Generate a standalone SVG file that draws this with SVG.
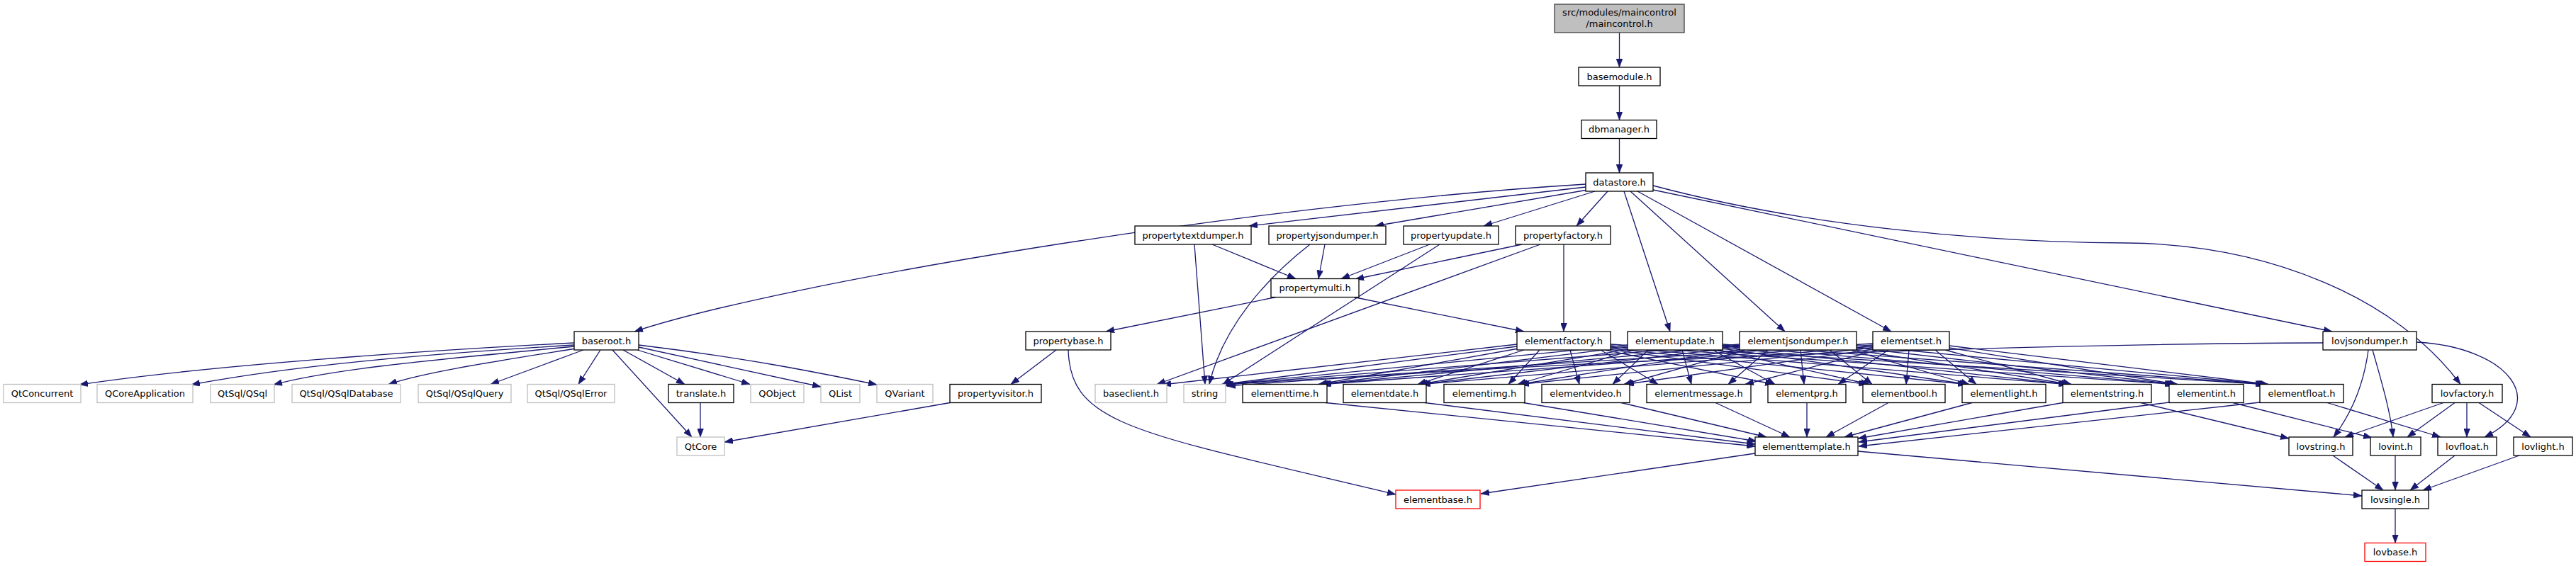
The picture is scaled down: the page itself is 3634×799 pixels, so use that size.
<svg xmlns="http://www.w3.org/2000/svg" width="3634" height="799" viewBox="0 0 3634 799">
<style>
.n rect{fill:#fff;stroke:#000;stroke-width:1.3}
.u rect{stroke:#bfbfbf}
.r rect{stroke:#ff0000}
.top rect{fill:#bfbfbf;stroke:#404040}
text{font-family:"DejaVu Sans","Liberation Sans",sans-serif;font-size:13px;text-anchor:middle;fill:#000}
#edges path{fill:none;stroke:#191970;stroke-width:1.3;marker-end:url(#a)}
</style>
<defs>
<marker id="a" viewBox="0 0 12 9" refX="12" refY="4.5" markerWidth="12" markerHeight="9" orient="auto" markerUnits="userSpaceOnUse"><path d="M0,0 L12,4.5 L0,9 z" fill="#191970" stroke="#191970" stroke-width="0.5"/></marker>
</defs>
<rect width="3634" height="799" fill="#fff"/>
<g id="edges">
<path d="M2284.5,46 L2284.5,95"/>
<path d="M2284.5,121 L2284.5,169.5"/>
<path d="M2284.5,195.5 L2284.5,244"/>
<path d="M2237,260 C1750,290 1100,400 895,468"/>
<path d="M2237,264 L1762,319"/>
<path d="M2240,268 L1940,319"/>
<path d="M2250,270 L2093,319"/>
<path d="M2268,270 L2224,319"/>
<path d="M2291,270 L2356,468"/>
<path d="M2300,270 L2518,468"/>
<path d="M2310,270 L2668,468"/>
<path d="M2332,268 L3290,468"/>
<path d="M2332,262 C2550,320 2800,342 3000,343 C3200,345 3380,420 3471,542.5"/>
<path d="M1710,345 L1828,393.5"/>
<path d="M1685,345 L1700,542.5"/>
<path d="M1869,345 L1860,393.5"/>
<path d="M1848,345 C1790,390 1725,460 1706,542.5"/>
<path d="M2017,345 L1892,393.5"/>
<path d="M2031,345 L1725,542.5"/>
<path d="M2147,345 L1912,394"/>
<path d="M2173,345 L1632,542.5"/>
<path d="M2206,345 L2206,468"/>
<path d="M1800,419.5 L1560,468"/>
<path d="M1910,419.5 L2150,468"/>
<path d="M1490,494 L1426,542.5"/>
<path d="M1507,494 C1510,600 1600,610 1969,698"/>
<path d="M1340,568.5 L1022,624"/>
<path d="M810,484 C600,495 300,515 112,543"/>
<path d="M810,487 C600,500 420,515 270,543"/>
<path d="M810,489 C650,505 480,518 386,543"/>
<path d="M812,492 C700,510 600,525 548,542.5"/>
<path d="M823,494 L692,542.5"/>
<path d="M847,494 L816,542.5"/>
<path d="M864,494 L976,617"/>
<path d="M879,494 L966,542.5"/>
<path d="M899,494 L1058,542.5"/>
<path d="M901,490 L1158,546"/>
<path d="M901,487 C1050,505 1150,525 1237,543"/>
<path d="M988,568.5 L988,617"/>
<path d="M2140,486 L1640,543"/>
<path d="M2140,489 L1722,543"/>
<path d="M2142,492 L1860,542.5"/>
<path d="M2150,494 L2000,542.5"/>
<path d="M2172,494 L2128,542.5"/>
<path d="M2215,494 L2228,542.5"/>
<path d="M2258,494 L2339,542.5"/>
<path d="M2264,494 L2502,542.5"/>
<path d="M2268,493 L2634,542.5"/>
<path d="M2272,492 L2774,542.5"/>
<path d="M2272,490 L2916,542.5"/>
<path d="M2272,488 L3066,542.5"/>
<path d="M2272,486 L3194,542.5"/>
<path d="M2296,487 L1724,543"/>
<path d="M2296,490 L1862,542.5"/>
<path d="M2298,493 L2002,542.5"/>
<path d="M2304,494 L2141,542.5"/>
<path d="M2325,494 L2275,542.5"/>
<path d="M2373,494 L2386,542.5"/>
<path d="M2416,494 L2504,542.5"/>
<path d="M2424,494 L2637,542.5"/>
<path d="M2430,492 L2776,542.5"/>
<path d="M2430,490 L2918,542.5"/>
<path d="M2430,488 L3068,542.5"/>
<path d="M2430,486 L3196,542.5"/>
<path d="M2454,486 L1726,543"/>
<path d="M2454,488 L1864,542.5"/>
<path d="M2454,490 L2004,542.5"/>
<path d="M2456,493 L2143,542.5"/>
<path d="M2462,494 L2291,542.5"/>
<path d="M2494,494 L2438,542.5"/>
<path d="M2540,494 L2545,542.5"/>
<path d="M2581,494 L2641,542.5"/>
<path d="M2610,494 L2778,542.5"/>
<path d="M2617,494 L2920,542.5"/>
<path d="M2619,491 L3070,542.5"/>
<path d="M2619,488 L3198,542.5"/>
<path d="M2642,485 L1728,543"/>
<path d="M2642,487 L1866,542.5"/>
<path d="M2642,489 L2006,542.5"/>
<path d="M2642,491 L2145,542.5"/>
<path d="M2644,493 L2293,542.5"/>
<path d="M2650,494 L2462,542.5"/>
<path d="M2664,494 L2593,542.5"/>
<path d="M2693,494 L2689,542.5"/>
<path d="M2730,494 L2788,542.5"/>
<path d="M2744,494 L2922,542.5"/>
<path d="M2750,491 L3072,542.5"/>
<path d="M2750,488 L3200,542.5"/>
<path d="M3277,484 C2800,486 2200,510 1731,545"/>
<path d="M3341,494 C3335,540 3320,580 3292,617"/>
<path d="M3347,494 C3360,540 3372,580 3376,617"/>
<path d="M3409,483 C3540,490 3600,570 3505,617"/>
<path d="M3447,568.5 L3308,617"/>
<path d="M3463,568.5 L3396,617"/>
<path d="M3480,568.5 L3480,617"/>
<path d="M3497,568.5 L3570,617"/>
<path d="M3020,568.5 L3229,619"/>
<path d="M3150,568.5 L3346,618"/>
<path d="M3283,568.5 L3443,617"/>
<path d="M1870,568.5 L2476,630"/>
<path d="M2010,568.5 L2476,627"/>
<path d="M2149,568.5 L2478,623"/>
<path d="M2287,568.5 L2492,617"/>
<path d="M2420,568.5 L2525,617"/>
<path d="M2549,568.5 L2549,617"/>
<path d="M2664,568.5 L2576,617"/>
<path d="M2782,568.5 L2602,617"/>
<path d="M2910,568.5 L2621,619"/>
<path d="M3060,568 L2622,624"/>
<path d="M3188,568 L2622,630"/>
<path d="M2476,640 L2089,697"/>
<path d="M2621,637 L3332,700"/>
<path d="M3291,643 L3362,692"/>
<path d="M3379,643 L3379,692"/>
<path d="M3463,643 L3400,692"/>
<path d="M3554,643 L3418,692"/>
<path d="M3379,718 L3379,766.5"/>
</g>
<g id="maincontrol" class="n top"><rect x="2193" y="6" width="183" height="40"/><text x="2284.5" y="22">src/modules/maincontrol</text><text x="2284.5" y="38">/maincontrol.h</text></g>
<g id="basemodule" class="n"><rect x="2227" y="95" width="115" height="26"/><text x="2284.5" y="112.5">basemodule.h</text></g>
<g id="dbmanager" class="n"><rect x="2231" y="169.5" width="106" height="26"/><text x="2284" y="187">dbmanager.h</text></g>
<g id="datastore" class="n"><rect x="2237" y="244" width="95" height="26"/><text x="2284.5" y="261.5">datastore.h</text></g>
<g id="propertytextdumper" class="n"><rect x="1601" y="319" width="164" height="26"/><text x="1683" y="336.5">propertytextdumper.h</text></g>
<g id="propertyjsondumper" class="n"><rect x="1790" y="319" width="165" height="26"/><text x="1872.5" y="336.5">propertyjsondumper.h</text></g>
<g id="propertyupdate" class="n"><rect x="1980" y="319" width="134" height="26"/><text x="2047" y="336.5">propertyupdate.h</text></g>
<g id="propertyfactory" class="n"><rect x="2138" y="319" width="134" height="26"/><text x="2205" y="336.5">propertyfactory.h</text></g>
<g id="propertymulti" class="n"><rect x="1793" y="393.5" width="124" height="26"/><text x="1855" y="411">propertymulti.h</text></g>
<g id="baseroot" class="n"><rect x="810" y="468" width="91" height="26"/><text x="855.5" y="485.5">baseroot.h</text></g>
<g id="propertybase" class="n"><rect x="1447" y="468" width="120" height="26"/><text x="1507" y="485.5">propertybase.h</text></g>
<g id="elementfactory" class="n"><rect x="2140" y="468" width="132" height="26"/><text x="2206" y="485.5">elementfactory.h</text></g>
<g id="elementupdate" class="n"><rect x="2296" y="468" width="134" height="26"/><text x="2363" y="485.5">elementupdate.h</text></g>
<g id="elementjsondumper" class="n"><rect x="2454" y="468" width="165" height="26"/><text x="2536.5" y="485.5">elementjsondumper.h</text></g>
<g id="elementset" class="n"><rect x="2642" y="468" width="108" height="26"/><text x="2696" y="485.5">elementset.h</text></g>
<g id="lovjsondumper" class="n"><rect x="3277" y="468" width="132" height="26"/><text x="3343" y="485.5">lovjsondumper.h</text></g>
<g id="QtConcurrent" class="n u"><rect x="5" y="542.5" width="109" height="26"/><text x="59.5" y="560">QtConcurrent</text></g>
<g id="QCoreApplication" class="n u"><rect x="137" y="542.5" width="135" height="26"/><text x="204.5" y="560">QCoreApplication</text></g>
<g id="QSql" class="n u"><rect x="297" y="542.5" width="90" height="26"/><text x="342" y="560">QtSql/QSql</text></g>
<g id="QSqlDatabase" class="n u"><rect x="412" y="542.5" width="153" height="26"/><text x="488.5" y="560">QtSql/QSqlDatabase</text></g>
<g id="QSqlQuery" class="n u"><rect x="590" y="542.5" width="131" height="26"/><text x="655.5" y="560">QtSql/QSqlQuery</text></g>
<g id="QSqlError" class="n u"><rect x="744" y="542.5" width="123" height="26"/><text x="805.5" y="560">QtSql/QSqlError</text></g>
<g id="translate" class="n"><rect x="943" y="542.5" width="92" height="26"/><text x="989" y="560">translate.h</text></g>
<g id="QObject" class="n u"><rect x="1059" y="542.5" width="75" height="26"/><text x="1096.5" y="560">QObject</text></g>
<g id="QList" class="n u"><rect x="1158" y="542.5" width="55" height="26"/><text x="1185.5" y="560">QList</text></g>
<g id="QVariant" class="n u"><rect x="1237" y="542.5" width="79" height="26"/><text x="1276.5" y="560">QVariant</text></g>
<g id="propertyvisitor" class="n"><rect x="1340" y="542.5" width="129" height="26"/><text x="1404.5" y="560">propertyvisitor.h</text></g>
<g id="baseclient" class="n u"><rect x="1545" y="542.5" width="101" height="26"/><text x="1595.5" y="560">baseclient.h</text></g>
<g id="string" class="n u"><rect x="1670" y="542.5" width="59" height="26"/><text x="1699.5" y="560">string</text></g>
<g id="elementtime" class="n"><rect x="1753" y="542.5" width="119" height="26"/><text x="1812.5" y="560">elementtime.h</text></g>
<g id="elementdate" class="n"><rect x="1895" y="542.5" width="117" height="26"/><text x="1953.5" y="560">elementdate.h</text></g>
<g id="elementimg" class="n"><rect x="2037" y="542.5" width="114" height="26"/><text x="2094" y="560">elementimg.h</text></g>
<g id="elementvideo" class="n"><rect x="2175" y="542.5" width="124" height="26"/><text x="2237" y="560">elementvideo.h</text></g>
<g id="elementmessage" class="n"><rect x="2323" y="542.5" width="147" height="26"/><text x="2396.5" y="560">elementmessage.h</text></g>
<g id="elementprg" class="n"><rect x="2494" y="542.5" width="110" height="26"/><text x="2549" y="560">elementprg.h</text></g>
<g id="elementbool" class="n"><rect x="2628" y="542.5" width="116" height="26"/><text x="2686" y="560">elementbool.h</text></g>
<g id="elementlight" class="n"><rect x="2768" y="542.5" width="118" height="26"/><text x="2827" y="560">elementlight.h</text></g>
<g id="elementstring" class="n"><rect x="2910" y="542.5" width="125" height="26"/><text x="2972.5" y="560">elementstring.h</text></g>
<g id="elementint" class="n"><rect x="3060" y="542.5" width="105" height="26"/><text x="3112.5" y="560">elementint.h</text></g>
<g id="elementfloat" class="n"><rect x="3188" y="542.5" width="118" height="26"/><text x="3247" y="560">elementfloat.h</text></g>
<g id="lovfactory" class="n"><rect x="3431" y="542.5" width="99" height="26"/><text x="3480.5" y="560">lovfactory.h</text></g>
<g id="QtCore" class="n u"><rect x="955" y="617" width="67" height="26"/><text x="988.5" y="634.5">QtCore</text></g>
<g id="elementtemplate" class="n"><rect x="2476" y="617" width="145" height="26"/><text x="2548.5" y="634.5">elementtemplate.h</text></g>
<g id="lovstring" class="n"><rect x="3229" y="617" width="90" height="26"/><text x="3274" y="634.5">lovstring.h</text></g>
<g id="lovint" class="n"><rect x="3344" y="617" width="71" height="26"/><text x="3379.5" y="634.5">lovint.h</text></g>
<g id="lovfloat" class="n"><rect x="3439" y="617" width="83" height="26"/><text x="3480.5" y="634.5">lovfloat.h</text></g>
<g id="lovlight" class="n"><rect x="3546" y="617" width="83" height="26"/><text x="3587.5" y="634.5">lovlight.h</text></g>
<g id="elementbase" class="n r"><rect x="1969" y="692" width="119" height="26"/><text x="2028.5" y="709.5">elementbase.h</text></g>
<g id="lovsingle" class="n"><rect x="3332" y="692" width="94" height="26"/><text x="3379" y="709.5">lovsingle.h</text></g>
<g id="lovbase" class="n r"><rect x="3336" y="766.5" width="86" height="26"/><text x="3379" y="784">lovbase.h</text></g>
</svg>
